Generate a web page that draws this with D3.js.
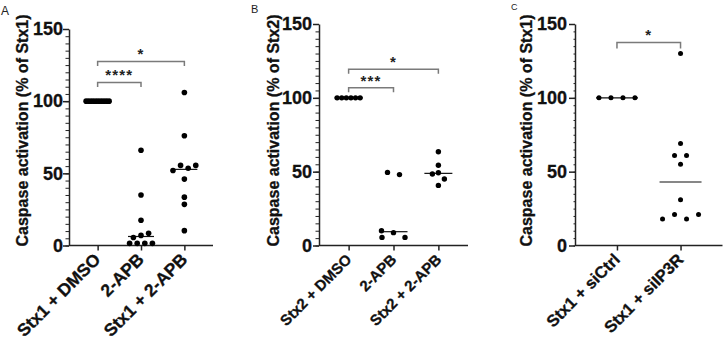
<!DOCTYPE html>
<html>
<head>
<meta charset="utf-8">
<script src="https://cdn.jsdelivr.net/npm/d3@7"></script>
<style>
  body { margin: 0; background: #fff; }
  text { font-family: "Liberation Sans", Arial, sans-serif; }
</style>
</head>
<body>
<div id="chart"></div>
<script>
// ---- data ----
const yTicks = [0, 50, 100, 150];

// panel A
const catsA = ["Stx1 + DMSO", "2-APB", "Stx1 + 2-APB"];
const dmsoA = [100, 100, 100, 100, 100, 100, 100, 100, 100, 100];
const apbA = [66, 35, 17.5, 1.5, 1.5, 1.5, 1.5, 5.5, 7, 8.5];
const stxApbA = [106, 76, 52, 55.5, 53.5, 55.5, 46, 33.5, 28.5, 10.3];
const sigPairsA = [[0, 1], [0, 2]];
const sigLevelsA = [113, 127.5];
const sigLabelsA = ["****", "*"];

// panel B
const catsB = ["Stx2 + DMSO", "2-APB", "Stx2 + 2-APB"];
const dmsoB = [100, 100, 100, 100, 100, 100];
const apbB = [49.5, 48, 10, 5.5, 8.7, 5.5];
const stxApbB = [63.5, 54.3, 48.4, 45, 49.3, 40.7];
const sigPairsB = [[0, 1], [0, 2]];
const sigLevelsB = [106.8, 119.4];
const sigLabelsB = ["***", "*"];

// panel C
const catsC = ["Stx1 + siCtrl", "Stx1 + siIP3R"];
const ctrlC = [100, 100, 100, 100];
const ip3rC = [130, 69, 61, 61, 55, 31, 18, 21, 18, 21];
const sigPairsC = [[0, 1]];
const sigLevelsC = [137.5];
const sigLabelsC = ["*"];

const svg = d3.select("#chart").append("svg")
    .attr("width", 724)
    .attr("height", 342);

// lay points of one group out in rows (GraphPad style scatter)
function layoutGroup(values, y, step, maxHalf, r) {
    let idx = values.map((v, i) => i).sort((a, b) => values[a] - values[b]);
    let rows = [];
    let cur = null;
    idx.forEach(i => {
        if (cur && Math.abs(y(values[i]) - y(values[cur[0]])) < 5.5) cur.push(i);
        else { cur = [i]; rows.push(cur); }
    });
    let placed = [];
    rows.forEach(row => {
        row.sort((a, b) => a - b);
        let n = row.length;
        if (n === 1) {
            let i = row[0];
            let cands = [0, -step, step, -2 * step, 2 * step];
            let off = cands.find(c => placed.every(p =>
                Math.hypot(p.dx - c, p.py - y(values[i])) >= 2 * r)) ?? 0;
            placed.push({ v: values[i], dx: off, py: y(values[i]) });
        } else {
            let s = Math.min(step, 2 * maxHalf / (n - 1));
            row.forEach((i, k) => {
                placed.push({ v: values[i], dx: (k - (n - 1) / 2) * s, py: y(values[i]) });
            });
        }
    });
    return placed;
}

function drawPanel(p) {
    let g = svg.append("g");

    let x = d3.scalePoint()
        .domain(p.cats)
        .range([p.left, p.right])
        .padding(0.66);

    let y = d3.scaleLinear()
        .domain([0, 150])
        .range([p.bottom, p.top]);

    // minor ticks
    g.append("g")
        .attr("transform", `translate(${p.left},0)`)
        .call(d3.axisLeft(y).tickValues(d3.range(0, 151, 5)).tickSize(p.minorTick).tickFormat(""))
        .call(a => a.select(".domain").remove())
        .selectAll("line").attr("stroke", "#222").attr("stroke-width", 1);

    // y axis
    g.append("g")
        .attr("transform", `translate(${p.left},0)`)
        .call(d3.axisLeft(y).tickValues(yTicks).tickSize(6).tickPadding(p.tickPad).tickSizeOuter(0))
        .call(a => a.select(".domain").attr("stroke", "#222").attr("stroke-width", 1.5))
        .call(a => a.selectAll("line").attr("stroke", "#222").attr("stroke-width", 1.5))
        .call(a => a.selectAll("text")
            .attr("fill", "#111")
            .attr("stroke", "#111")
            .attr("stroke-width", 0.3)
            .style("font-size", "18px")
            .style("font-weight", "bold"));

    // x axis
    let xa = g.append("g")
        .attr("transform", `translate(0,${p.bottom})`)
        .call(d3.axisBottom(x).tickSize(5).tickSizeOuter(0).tickFormat(""));
    xa.select(".domain").attr("stroke", "#222").attr("stroke-width", 1.5)
        .attr("d", `M${p.left},0H${p.right}`);
    xa.selectAll("line").attr("stroke", "#222").attr("stroke-width", 1.5);

    // rotated category labels
    g.selectAll(".xlab")
        .data(p.cats)
        .join("text")
        .attr("class", "xlab")
        .attr("text-anchor", "end")
        .attr("transform", d => `translate(${x(d) + 4},${p.bottom + 15}) rotate(-45)`)
        .attr("fill", "#111")
        .attr("stroke", "#111")
        .attr("stroke-width", 0.3)
        .style("font-size", p.xFont + "px")
        .style("font-weight", "bold")
        .text(d => d);

    // y label
    g.append("text")
        .attr("transform", `translate(${p.labelX},${130.5}) rotate(-90)`)
        .attr("text-anchor", "middle")
        .attr("fill", "#111")
        .attr("stroke", "#111")
        .attr("stroke-width", 0.3)
        .style("font-size", "16px")
        .style("font-weight", "bold")
        .text(p.ylabel);

    // panel letter
    g.append("text")
        .attr("x", p.letterX)
        .attr("y", p.letterY)
        .attr("fill", "#222")
        .style("font-size", p.letterSize + "px")
        .text(p.letter);

    // points + medians
    p.groups.forEach((vals, gi) => {
        let cx = x(p.cats[gi]);
        let pts = layoutGroup(vals, y, p.step, p.maxHalf, p.r);
        let med = d3.median(vals);
        g.append("line")
            .attr("x1", cx - p.medHalf)
            .attr("x2", cx + p.medHalf)
            .attr("y1", y(med))
            .attr("y2", y(med))
            .attr("stroke", "#111")
            .attr("stroke-width", 1.2);
        g.selectAll(null)
            .data(pts)
            .join("circle")
            .attr("cx", d => cx + d.dx)
            .attr("cy", d => d.py)
            .attr("r", p.r)
            .attr("fill", "#000");
    });

    // significance brackets
    p.sigPairs.forEach((pair, si) => {
        let x1 = x(p.cats[pair[0]]);
        let x2 = x(p.cats[pair[1]]);
        let yy = y(p.sigLevels[si]);
        g.append("path")
            .attr("d", `M${x1},${yy + p.bracketTick}V${yy}H${x2}V${yy + p.bracketTick}`)
            .attr("fill", "none")
            .attr("stroke", "#7a7a7a")
            .attr("stroke-width", 1.5);
        g.append("text")
            .attr("x", (x1 + x2) / 2)
            .attr("y", yy - 2)
            .attr("text-anchor", "middle")
            .attr("fill", "#222")
            .style("font-size", "15px")
            .style("font-weight", "bold")
            .style("letter-spacing", "1.2px")
            .text(p.sigLabels[si]);
    });
}

drawPanel({
    cats: catsA, groups: [dmsoA, apbA, stxApbA],
    left: 69, right: 213, top: 29, bottom: 245.5,
    ylabel: "Caspase activation (% of Stx1)", labelX: 28,
    letter: "A", letterX: 1, letterY: 15, letterSize: 12,
    step: 7.6, maxHalf: 11.5, r: 2.8, medHalf: 13,
    minorTick: 3.5, tickPad: 0, xFont: 17.5,
    sigPairs: sigPairsA, sigLevels: sigLevelsA, sigLabels: sigLabelsA, bracketTick: 4.5
});

drawPanel({
    cats: catsB, groups: [dmsoB, apbB, stxApbB],
    left: 319, right: 468, top: 24, bottom: 245.5,
    ylabel: "Caspase activation (% of Stx2)", labelX: 279,
    letter: "B", letterX: 251, letterY: 13, letterSize: 11,
    step: 12, maxHalf: 11.5, r: 2.7, medHalf: 14,
    minorTick: 3.5, tickPad: 1, xFont: 15,
    sigPairs: sigPairsB, sigLevels: sigLevelsB, sigLabels: sigLabelsB, bracketTick: 4.5
});

drawPanel({
    cats: catsC, groups: [ctrlC, ip3rC],
    left: 575, right: 722.5, top: 24, bottom: 245.5,
    ylabel: "Caspase activation (% of Stx1)", labelX: 531.5,
    letter: "C", letterX: 511, letterY: 10, letterSize: 9,
    step: 12, maxHalf: 18.5, r: 2.5, medHalf: 21,
    minorTick: 1.5, tickPad: 2, xFont: 16.5,
    sigPairs: sigPairsC, sigLevels: sigLevelsC, sigLabels: sigLabelsC, bracketTick: 6
});
</script>
</body>
</html>
